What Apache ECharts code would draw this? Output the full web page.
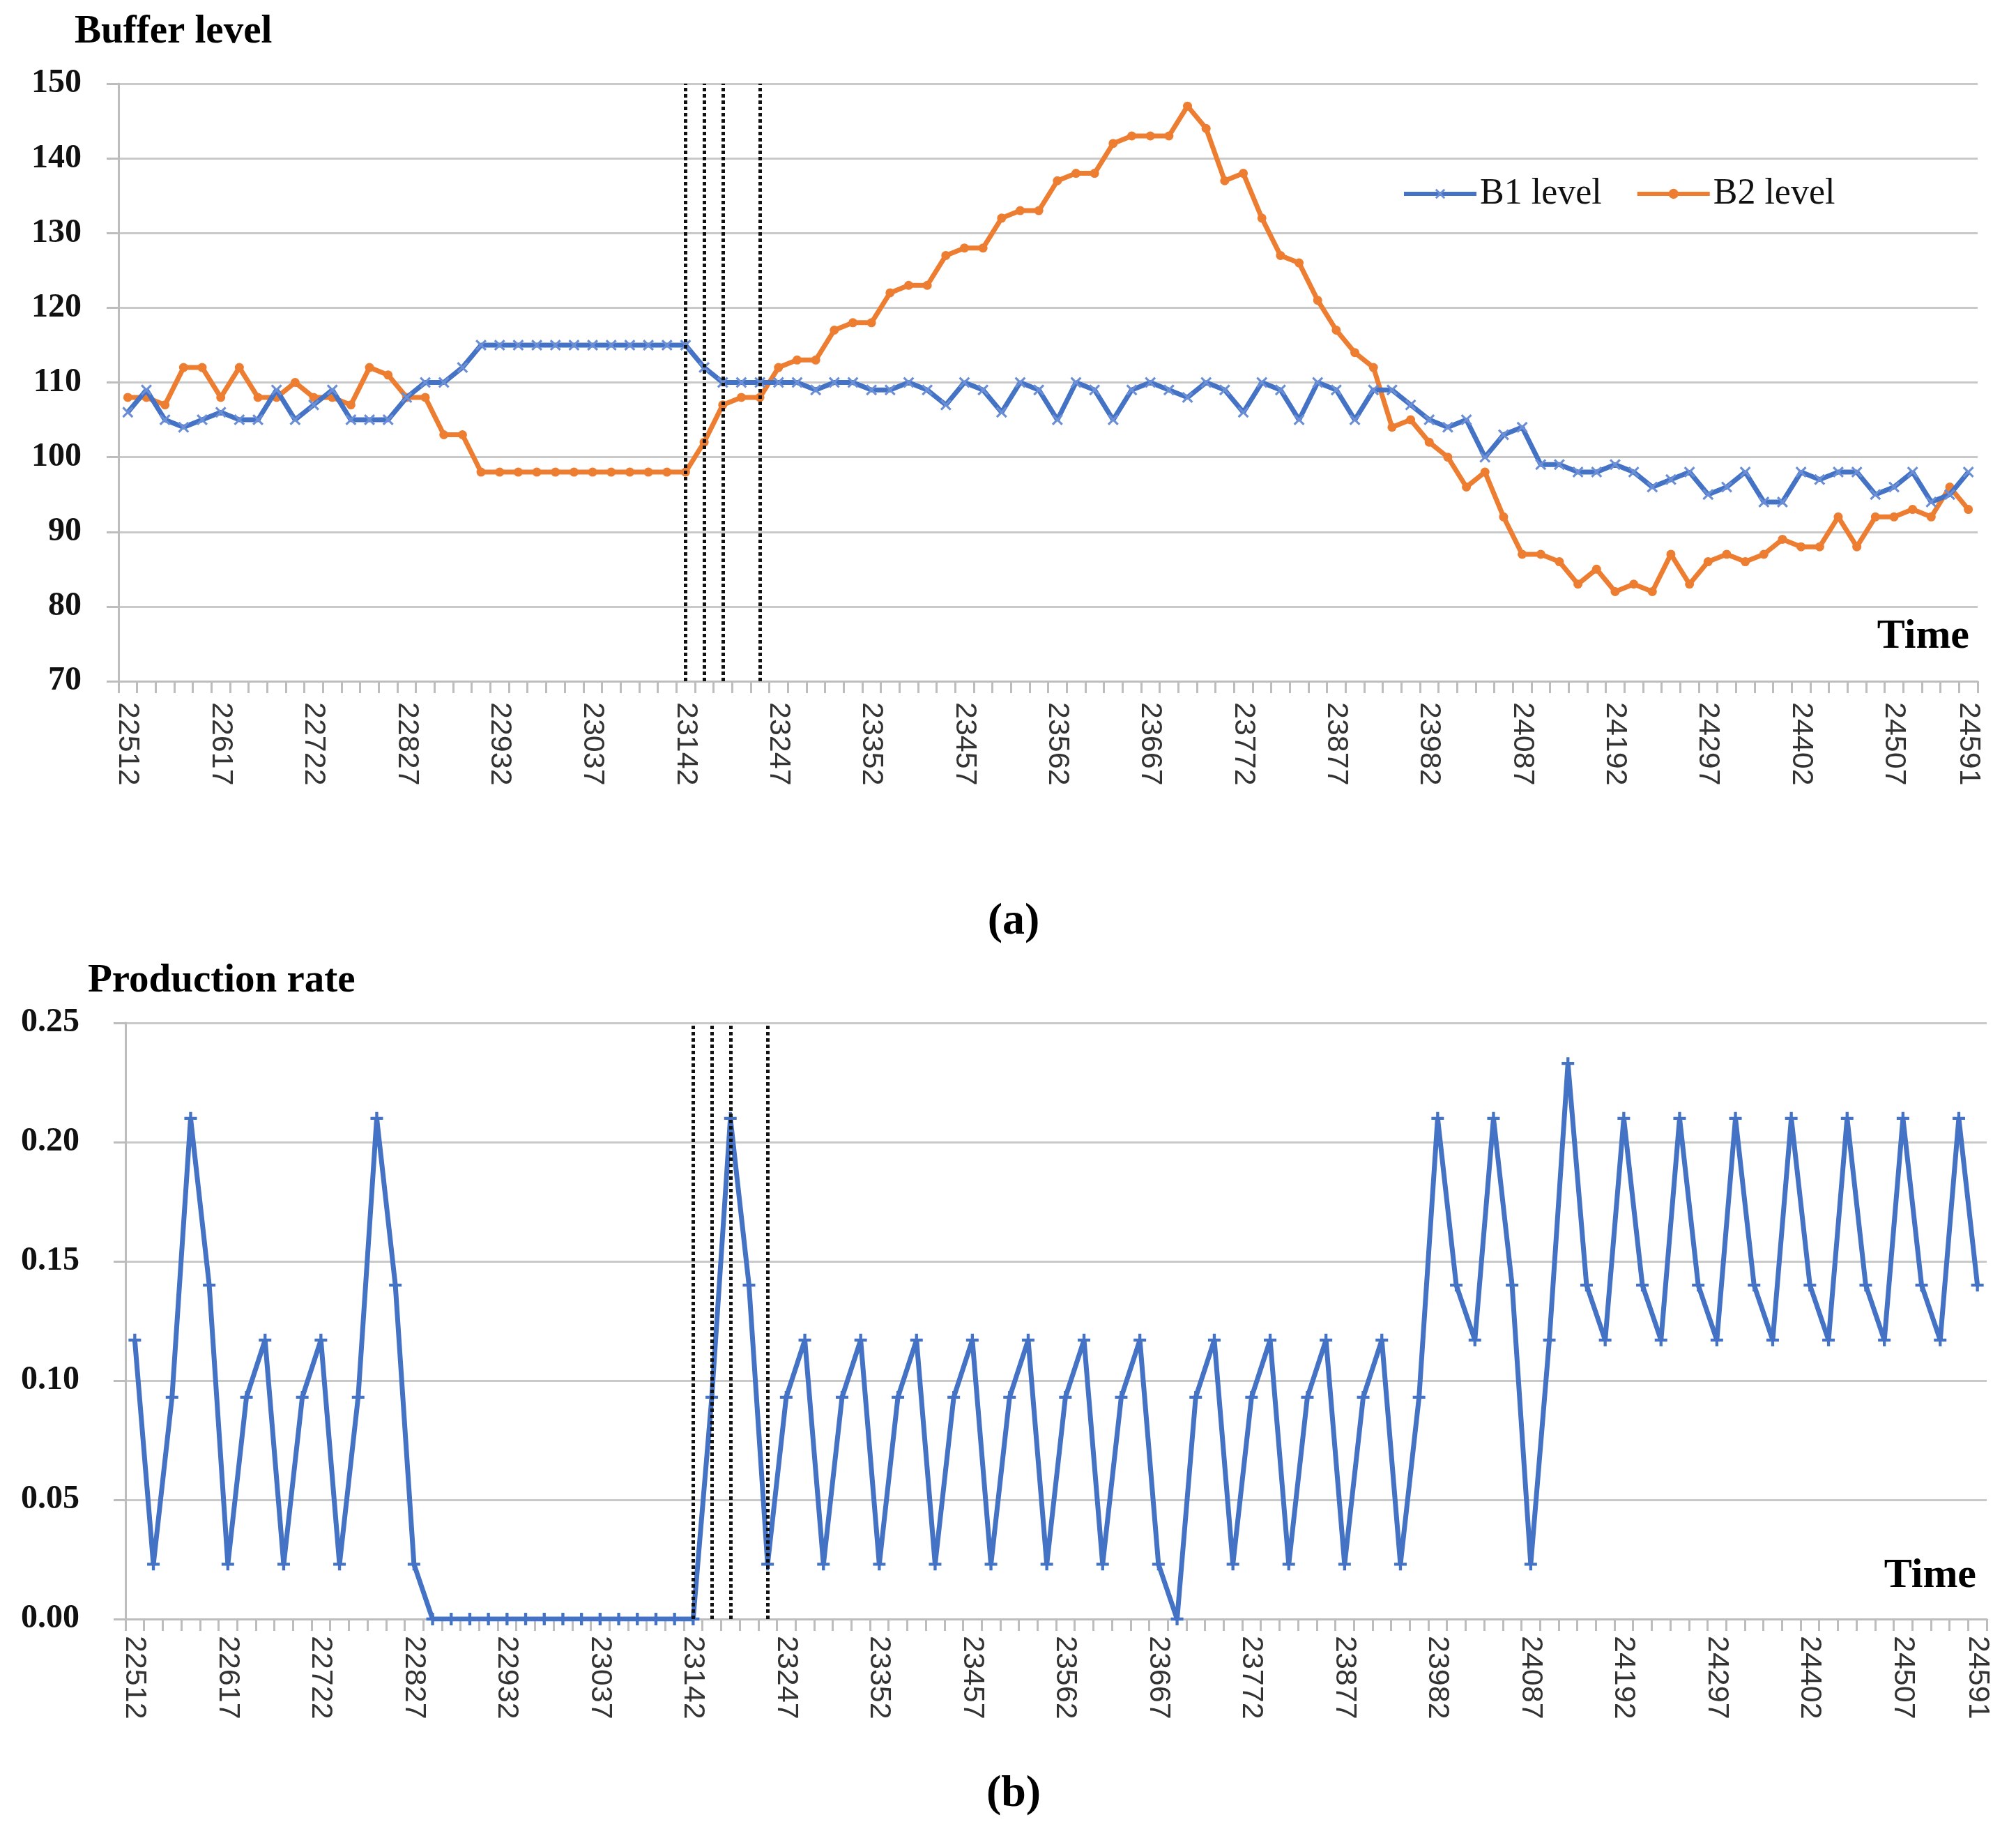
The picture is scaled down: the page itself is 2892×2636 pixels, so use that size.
<!DOCTYPE html>
<html>
<head>
<meta charset="utf-8">
<script src="https://cdn.jsdelivr.net/npm/echarts@6/dist/echarts.min.js"></script>
<style>
html,body{margin:0;padding:0;background:#fff;}
#chart{width:2892px;height:2636px;}
</style>
</head>
<body>
<div id="chart"></div>
<script>
// ---- data ----
const times = [22512,22533,22554,22575,22596,22617,22638,22659,22680,22701,
22722,22743,22764,22785,22806,22827,22848,22869,22890,22911,
22932,22953,22974,22995,23016,23037,23058,23079,23100,23121,
23142,23163,23184,23205,23226,23247,23268,23289,23310,23331,
23352,23373,23394,23415,23436,23457,23478,23499,23520,23541,
23562,23583,23604,23625,23646,23667,23688,23709,23730,23751,
23772,23793,23814,23835,23856,23877,23898,23919,23940,23961,
23982,24003,24024,24045,24066,24087,24108,24129,24150,24171,
24192,24213,24234,24255,24276,24297,24318,24339,24360,24381,
24402,24423,24444,24465,24486,24507,24528,24549,24570,24591];

const b1Level = [106,109,105,104,105,106,105,105,109,105,
107,109,105,105,105,108,110,110,112,115,
115,115,115,115,115,115,115,115,115,115,
115,112,110,110,110,110,110,109,110,110,
109,109,110,109,107,110,109,106,110,109,
105,110,109,105,109,110,109,108,110,109,
106,110,109,105,110,109,105,109,109,107,
105,104,105,100,103,104,99,99,98,98,
99,98,96,97,98,95,96,98,94,94,
98,97,98,98,95,96,98,94,95,98];

const b2Level = [108,108,107,112,112,108,112,108,108,110,
108,108,107,112,111,108,108,103,103,98,
98,98,98,98,98,98,98,98,98,98,
98,102,107,108,108,112,113,113,117,118,
118,122,123,123,127,128,128,132,133,133,
137,138,138,142,143,143,143,147,144,137,
138,132,127,126,121,117,114,112,104,105,
102,100,96,98,92,87,87,86,83,85,
82,83,82,87,83,86,87,86,87,89,
88,88,92,88,92,92,93,92,96,93];

const productionRate = [0.117,0.023,0.093,0.21,0.14,0.023,0.093,0.117,0.023,0.093,
0.117,0.023,0.093,0.21,0.14,0.023,0,0,0,0,
0,0,0,0,0,0,0,0,0,0,
0,0.093,0.21,0.14,0.023,0.093,0.117,0.023,0.093,0.117,
0.023,0.093,0.117,0.023,0.093,0.117,0.023,0.093,0.117,0.023,
0.093,0.117,0.023,0.093,0.117,0.023,0,0.093,0.117,0.023,
0.093,0.117,0.023,0.093,0.117,0.023,0.093,0.117,0.023,0.093,
0.21,0.14,0.117,0.21,0.14,0.023,0.117,0.233,0.14,0.117,
0.21,0.14,0.117,0.21,0.14,0.117,0.21,0.14,0.117,0.21,
0.14,0.117,0.21,0.14,0.117,0.21,0.14,0.117,0.21,0.14];

const markerTimes = [23142,23163,23184,23226];
const seriesNames = ['B1 level','B2 level','Production rate'];
const panelTitles = ['Buffer level','Production rate'];
const panelLabels = ['(a)','(b)'];
const axisTitle = 'Time';

// ---- styles ----
const BLUE = '#4472C4', ORANGE = '#ED7D31', GRID = '#c9c9c9', AXIS = '#bdbdbd';
const SERIF = '"Liberation Serif", "Times New Roman", serif';
const SANS = '"Liberation Sans", Arial, sans-serif';
const cats = times.map(String);
const xSymbol = 'path://M0,1.4 L1.4,0 L5,3.6 L8.6,0 L10,1.4 L6.4,5 L10,8.6 L8.6,10 L5,6.4 L1.4,10 L0,8.6 L3.6,5 Z';
const plusSymbol = 'path://M3.8,0 L6.2,0 L6.2,3.8 L10,3.8 L10,6.2 L6.2,6.2 L6.2,10 L3.8,10 L3.8,6.2 L0,6.2 L0,3.8 L3.8,3.8 Z';

function mkX(gridIndex, margin){
  return {
    type:'category', gridIndex, data: cats, boundaryGap: true,
    axisLine:{show:true, lineStyle:{color:AXIS, width:3}},
    axisTick:{show:true, interval:0, length:17, lineStyle:{color:AXIS, width:3}},
    axisLabel:{
      interval:(i)=> i % 5 === 0 || i === cats.length-1,
      rotate:-90, margin, fontFamily:SANS, fontSize:43, color:'#333'
    },
    splitLine:{show:false}
  };
}
function mkY(gridIndex, min, max, interval, margin, fmt){
  return {
    type:'value', gridIndex, min, max, interval,
    axisLine:{show:true, lineStyle:{color:AXIS, width:3}},
    axisTick:{show:true, length:17, lineStyle:{color:AXIS, width:3}},
    axisLabel:{margin, fontFamily:SERIF, fontWeight:'bold', fontSize:48, color:'#111', formatter:fmt},
    splitLine:{show:true, lineStyle:{color:GRID, width:3}}
  };
}
const markLineCfg = {
  silent:true, symbol:['none','none'], label:{show:false},
  lineStyle:{color:'#111', type:[5,4], width:5},
  data: markerTimes.map(t => ({xAxis:String(t)}))
};
function txt(text, x, y, size, align){
  return {type:'text', x, y, style:{text, font:'bold '+size+'px '+SERIF, fill:'#000',
    textAlign:align, textVerticalAlign:'middle', align:align, verticalAlign:'middle'}};
}

const chart = echarts.init(document.getElementById('chart'), null, {renderer:'canvas'});
chart.setOption({
  animation:false,
  backgroundColor:'#fff',
  grid:[
    {left:170, top:120, width:2667, height:857},
    {left:180, top:1467, width:2670, height:855}
  ],
  xAxis:[ mkX(0, 30), mkX(1, 24) ],
  yAxis:[
    mkY(0, 70, 150, 10, 53, v => String(v)),
    mkY(1, 0, 0.25, 0.05, 66, v => v.toFixed(2))
  ],
  legend:{
    data:[seriesNames[0], seriesNames[1]],
    left:2011, top:252, orient:'horizontal',
    itemWidth:104, itemHeight:18, itemGap:48,
    lineStyle:{width:6},
    textStyle:{fontFamily:SERIF, fontSize:52, color:'#111'},
    padding:0
  },
  graphic:[
    txt(panelTitles[0], 107, 46, 57, 'left'),
    txt(panelTitles[1], 126, 1407, 57, 'left'),
    txt(axisTitle, 2825, 913, 60, 'right'),
    txt(axisTitle, 2835, 2260, 60, 'right'),
    txt(panelLabels[0], 1454, 1322, 64, 'center'),
    txt(panelLabels[1], 1454, 2573, 64, 'center')
  ],
  series:[
    {name:seriesNames[0], type:'line', xAxisIndex:0, yAxisIndex:0, data:b1Level,
      symbol:xSymbol, symbolSize:16, showAllSymbol:true, showSymbol:true,
      lineStyle:{color:BLUE, width:7}, itemStyle:{color:'#6b8fd6'},
      markLine: markLineCfg, z:3},
    {name:seriesNames[1], type:'line', xAxisIndex:0, yAxisIndex:0, data:b2Level,
      symbol:'circle', symbolSize:13, showAllSymbol:true, showSymbol:true,
      lineStyle:{color:ORANGE, width:7}, itemStyle:{color:ORANGE}, z:2},
    {name:seriesNames[2], type:'line', xAxisIndex:1, yAxisIndex:1, data:productionRate,
      symbol:plusSymbol, symbolSize:18, showAllSymbol:true, showSymbol:true,
      lineStyle:{color:BLUE, width:7}, itemStyle:{color:BLUE},
      markLine: markLineCfg, z:3}
  ]
});
</script>
</body>
</html>
